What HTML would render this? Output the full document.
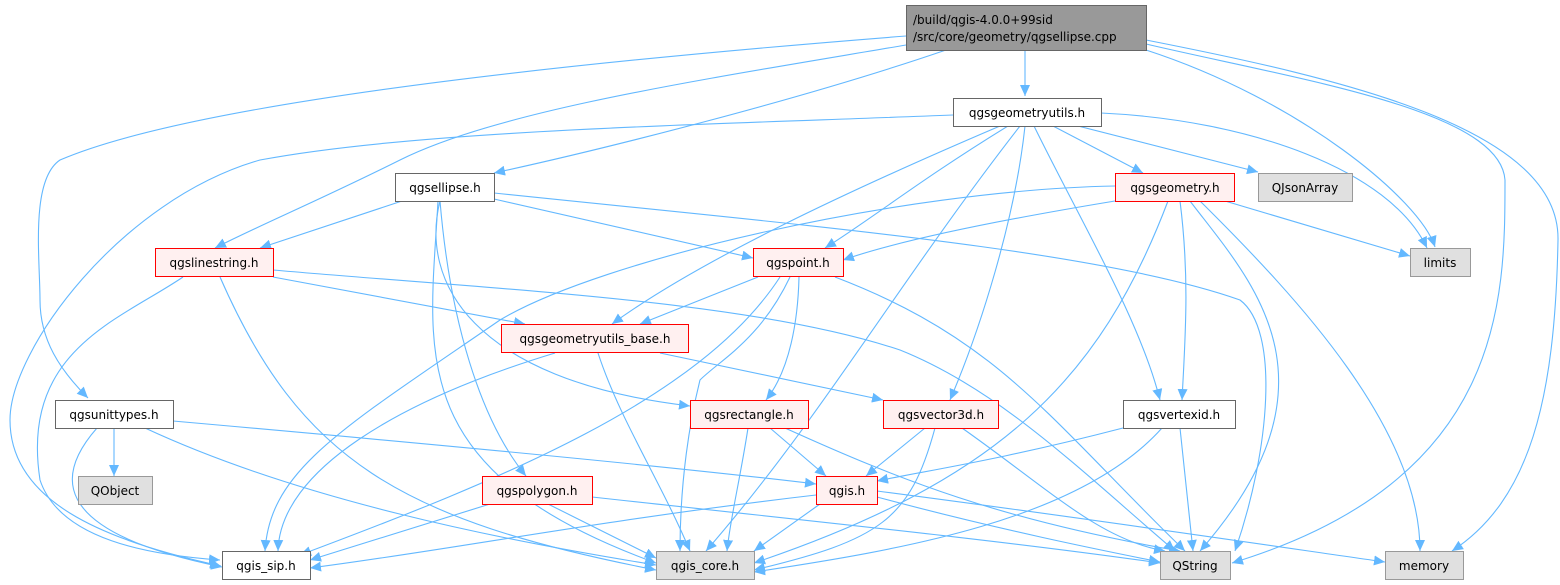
<!DOCTYPE html>
<html><head><meta charset="utf-8"><style>
html,body{margin:0;padding:0;background:#fff;}
svg{display:block;}
text{font-family:"DejaVu Sans","Liberation Sans",sans-serif;font-size:12px;fill:#000;}
</style></head><body>
<svg width="1560" height="585" viewBox="0 0 1560 585" xmlns="http://www.w3.org/2000/svg">
<defs>
<marker id="a" markerWidth="12" markerHeight="10" refX="11" refY="5" orient="auto" markerUnits="userSpaceOnUse">
<path d="M0,0 L11,5 L0,10 Z" fill="#63b8ff"/>
</marker>
</defs>
<g fill="none" stroke="#63b8ff" stroke-width="1.1" marker-end="url(#a)">
<path d="M906,36 C600,60 200,100 60,160 C30,180 40,260 40,300 C40,340 60,370 88,398"/>
<path d="M906,45 C700,80 500,110 400,160 C320,200 260,225 215,248"/>
<path d="M946,50 C800,100 600,150 494,173"/>
<path d="M1025,50 L1025,96"/>
<path d="M1146,50 C1300,100 1420,200 1435,247"/>
<path d="M1146,44 C1300,80 1500,110 1505,180 C1505,300 1505,480 1232,563"/>
<path d="M1146,40 C1350,80 1560,130 1558,240 C1555,400 1530,500 1452,551"/>
<path d="M953,115 C700,125 420,130 260,160 C120,200 10,350 10,420 C10,500 100,540 221,566"/>
<path d="M1000,126 C850,190 700,260 612,324"/>
<path d="M1008,126 C920,180 870,220 825,248"/>
<path d="M1020,126 C900,280 820,420 706,551"/>
<path d="M1025,126 C1015,220 980,330 950,400"/>
<path d="M1034,126 C1080,220 1140,320 1160,400"/>
<path d="M1053,126 L1143,173"/>
<path d="M1078,126 L1258,172"/>
<path d="M1101,113 C1250,120 1390,170 1427,248"/>
<path d="M402,201 L260,248"/>
<path d="M494,199 L753,258"/>
<path d="M494,193 C800,225 1100,250 1240,300 C1280,330 1270,450 1235,551"/>
<path d="M440,201 C420,280 470,380 690,406"/>
<path d="M440,201 C450,320 480,420 526,476"/>
<path d="M438,201 C430,350 400,470 656,563"/>
<path d="M183,277 C120,320 20,350 40,480 C60,540 150,555 220,560"/>
<path d="M220,277 C300,460 400,520 656,570"/>
<path d="M273,277 L525,324"/>
<path d="M273,270 C500,290 750,300 900,350 C1000,390 1080,470 1175,551"/>
<path d="M1115,186 C900,190 600,260 500,320 C340,430 270,470 265,551"/>
<path d="M1115,201 C1000,220 900,240 843,260"/>
<path d="M1225,201 L1410,256"/>
<path d="M1180,201 C1190,280 1185,340 1182,400"/>
<path d="M1168,201 C1100,380 1000,480 754,563"/>
<path d="M1190,201 C1250,280 1350,380 1200,551"/>
<path d="M1200,201 C1300,300 1420,430 1420,551"/>
<path d="M758,277 L640,324"/>
<path d="M790,277 C760,340 720,360 700,380 C690,420 680,480 680,551"/>
<path d="M780,277 C700,400 500,480 300,555"/>
<path d="M799,277 C798,320 790,370 766,400"/>
<path d="M835,277 C1000,340 1050,420 1185,551"/>
<path d="M555,353 C400,400 280,470 278,551"/>
<path d="M598,353 C620,420 660,480 690,551"/>
<path d="M660,353 L883,400"/>
<path d="M114,428 L114,476"/>
<path d="M97,428 C60,470 40,530 222,567"/>
<path d="M145,428 C300,500 500,540 656,565"/>
<path d="M173,421 C500,450 700,470 816,484"/>
<path d="M748,428 C740,480 730,520 727,551"/>
<path d="M770,428 L826,476"/>
<path d="M785,428 C900,480 1000,520 1180,551"/>
<path d="M925,428 L866,476"/>
<path d="M935,428 C910,520 880,540 754,570"/>
<path d="M962,428 C1050,490 1100,540 1165,551"/>
<path d="M1123,428 C1000,460 930,470 877,481"/>
<path d="M1162,428 C1080,520 900,550 754,572"/>
<path d="M1180,428 L1193,551"/>
<path d="M816,495 C600,520 450,550 310,568"/>
<path d="M820,504 L754,551"/>
<path d="M877,497 C1000,530 1100,550 1160,562"/>
<path d="M877,491 C1100,520 1300,550 1385,562"/>
<path d="M490,504 L310,560"/>
<path d="M548,504 L656,558"/>
<path d="M592,497 C800,520 1000,540 1160,563"/>
</g>
<g stroke-width="1">
<rect x="906.5" y="5.5" width="240" height="45" fill="#999" stroke="#666"/>
<rect x="953.5" y="98.5" width="148" height="28" fill="#fff" stroke="#666"/>
<rect x="1115.5" y="173.5" width="119" height="28" fill="#fff0f0" stroke="#f00"/>
<rect x="1258.5" y="173.5" width="94" height="28" fill="#e0e0e0" stroke="#999"/>
<rect x="1410.5" y="248.5" width="60" height="28" fill="#e0e0e0" stroke="#999"/>
<rect x="395.5" y="173.5" width="99" height="28" fill="#fff" stroke="#666"/>
<rect x="155.5" y="248.5" width="118" height="28" fill="#fff0f0" stroke="#f00"/>
<rect x="753.5" y="248.5" width="90" height="28" fill="#fff0f0" stroke="#f00"/>
<rect x="501.5" y="324.5" width="187" height="28" fill="#fff0f0" stroke="#f00"/>
<rect x="55.5" y="400.5" width="118" height="28" fill="#fff" stroke="#666"/>
<rect x="690.5" y="400.5" width="118" height="28" fill="#fff0f0" stroke="#f00"/>
<rect x="883.5" y="400.5" width="115" height="28" fill="#fff0f0" stroke="#f00"/>
<rect x="1123.5" y="400.5" width="112" height="28" fill="#fff" stroke="#666"/>
<rect x="78.5" y="476.5" width="74" height="28" fill="#e0e0e0" stroke="#999"/>
<rect x="482.5" y="476.5" width="110" height="28" fill="#fff0f0" stroke="#f00"/>
<rect x="816.5" y="476.5" width="61" height="28" fill="#fff0f0" stroke="#f00"/>
<rect x="222.5" y="551.5" width="88" height="28" fill="#fff" stroke="#666"/>
<rect x="656.5" y="551.5" width="98" height="28" fill="#e0e0e0" stroke="#999"/>
<rect x="1160.5" y="551.5" width="70" height="28" fill="#e0e0e0" stroke="#999"/>
<rect x="1385.5" y="551.5" width="78" height="28" fill="#e0e0e0" stroke="#999"/>
</g>
<g text-anchor="middle">
<text x="913" y="24" text-anchor="start">/build/qgis-4.0.0+99sid</text>
<text x="913" y="41" text-anchor="start">/src/core/geometry/qgsellipse.cpp</text>
<text x="1027" y="117">qgsgeometryutils.h</text>
<text x="1175" y="192">qgsgeometry.h</text>
<text x="1305" y="192">QJsonArray</text>
<text x="1440" y="267">limits</text>
<text x="445" y="192">qgsellipse.h</text>
<text x="214" y="267">qgslinestring.h</text>
<text x="798" y="267">qgspoint.h</text>
<text x="595" y="343">qgsgeometryutils_base.h</text>
<text x="114" y="419">qgsunittypes.h</text>
<text x="749" y="419">qgsrectangle.h</text>
<text x="941" y="419">qgsvector3d.h</text>
<text x="1179" y="419">qgsvertexid.h</text>
<text x="115" y="495">QObject</text>
<text x="537" y="495">qgspolygon.h</text>
<text x="847" y="495">qgis.h</text>
<text x="266" y="570">qgis_sip.h</text>
<text x="705" y="570">qgis_core.h</text>
<text x="1195" y="570">QString</text>
<text x="1424" y="570">memory</text>
</g>
</svg>
</body></html>
